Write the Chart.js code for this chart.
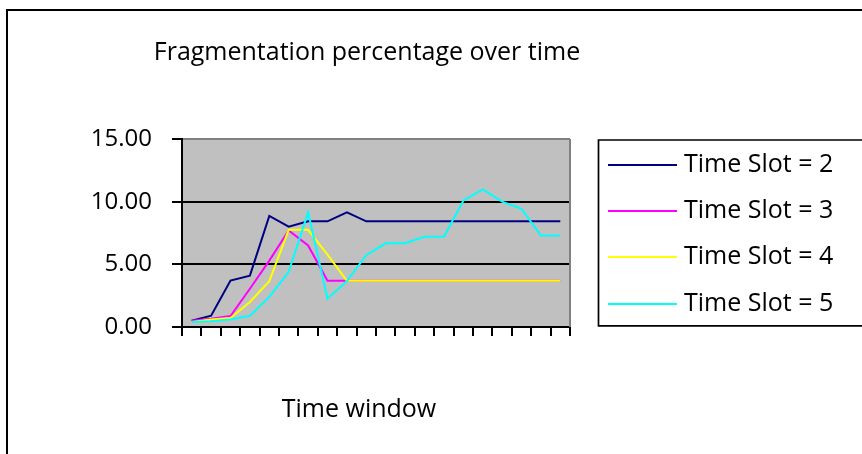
<!DOCTYPE html>
<html>
<head>
<meta charset="utf-8">
<script src="https://cdn.jsdelivr.net/npm/chart.js@4.4.1/dist/chart.umd.min.js"></script>
<style>
  html, body { margin: 0; padding: 0; background: #ffffff; }
  canvas { display: block; }
</style>
</head>
<body>
<canvas id="chart" width="862" height="454"></canvas>
<script>
// Time windows along the x axis (unlabelled in the drawing)
const timeWindows = ['1', '2', '3', '4', '5', '6', '7', '8', '9', '10',
                     '11', '12', '13', '14', '15', '16', '17', '18', '19', '20'];

const seriesNames = ['Time Slot = 2', 'Time Slot = 3', 'Time Slot = 4', 'Time Slot = 5'];
const seriesColors = ['#000080', '#FF00FF', '#FFFF00', '#00FFFF'];

// Fragmentation percentage per time window
const slot2 = [0.50, 0.90, 3.70, 4.10, 8.86, 8.00, 8.43, 8.43, 9.15, 8.43,
               8.43, 8.43, 8.43, 8.43, 8.43, 8.43, 8.43, 8.43, 8.43, 8.43];
const slot3 = [0.50, 0.65, 0.88, 3.05, 5.30, 7.70, 6.50, 3.69, 3.69, 3.69,
               3.69, 3.69, 3.69, 3.69, 3.69, 3.69, 3.69, 3.69, 3.69, 3.69];
const slot4 = [0.40, 0.60, 0.72, 2.00, 3.66, 7.75, 7.75, 5.78, 3.69, 3.69,
               3.69, 3.69, 3.69, 3.69, 3.69, 3.69, 3.69, 3.69, 3.69, 3.69];
const slot5 = [0.40, 0.45, 0.60, 0.90, 2.40, 4.40, 9.15, 2.26, 3.66, 5.73,
               6.68, 6.68, 7.20, 7.20, 10.08, 10.98, 10.00, 9.42, 7.30, 7.30];

const yTicks = [0, 5, 10, 15];

const chartTitle = 'Fragmentation percentage over time';
const xAxisTitle = 'Time window';

const FONT = '"Open Sans", "Noto Sans", sans-serif';

// Plot background, outer frame, titles and the boxed legend
const decorations = {
  id: 'decorations',
  beforeDraw(chart) {
    const { ctx, chartArea: a } = chart;
    ctx.save();
    ctx.fillStyle = '#C0C0C0';
    ctx.fillRect(a.left, a.top, a.right - a.left, a.bottom - a.top);
    ctx.restore();
  },
  afterDraw(chart) {
    const { ctx, chartArea: a } = chart;
    ctx.save();

    // right edge of the plot area
    ctx.strokeStyle = '#808080';
    ctx.lineWidth = 2;
    ctx.beginPath();
    ctx.moveTo(a.right, a.top);
    ctx.lineTo(a.right, a.bottom);
    ctx.stroke();

    // outer frame
    ctx.strokeStyle = '#000000';
    ctx.lineWidth = 2;
    ctx.beginPath();
    ctx.moveTo(7, 470);
    ctx.lineTo(7, 10);
    ctx.lineTo(880, 10);
    ctx.stroke();

    // titles
    ctx.fillStyle = '#000000';
    ctx.font = '25px ' + FONT;
    ctx.textAlign = 'center';
    ctx.textBaseline = 'alphabetic';
    ctx.fillText(chartTitle, 367, 60);
    ctx.fillText(xAxisTitle, 359, 417);

    // legend box
    ctx.lineWidth = 1.7;
    ctx.strokeStyle = '#000000';
    ctx.beginPath();
    ctx.moveTo(880, 140);
    ctx.lineTo(598.5, 140);
    ctx.lineTo(598.5, 325.8);
    ctx.lineTo(880, 325.8);
    ctx.stroke();

    const rows = [165, 211, 257, 304];
    chart.data.datasets.forEach((ds, i) => {
      const y = rows[i];
      ctx.strokeStyle = ds.borderColor;
      ctx.lineWidth = 2;
      ctx.beginPath();
      ctx.moveTo(608, y);
      ctx.lineTo(677, y);
      ctx.stroke();
      ctx.fillStyle = '#000000';
      ctx.textAlign = 'left';
      ctx.textBaseline = 'middle';
      ctx.font = '25px ' + FONT;
      ctx.fillText(ds.label, 684, y);
    });

    ctx.restore();
  }
};

const seriesValues = [slot2, slot3, slot4, slot5];

new Chart(document.getElementById('chart'), {
  type: 'line',
  data: {
    labels: timeWindows,
    datasets: seriesValues.map((vals, i) => ({
      label: seriesNames[i],
      data: vals,
      borderColor: seriesColors[i],
      backgroundColor: seriesColors[i],
      borderWidth: 2,
      pointRadius: 0,
      tension: 0,
      fill: false,
      order: seriesValues.length - i
    }))
  },
  options: {
    responsive: false,
    animation: false,
    devicePixelRatio: 1,
    layout: { padding: { top: 139, right: 292, left: 0, bottom: 0 } },
    plugins: {
      legend: { display: false },
      title: { display: false },
      tooltip: { enabled: false }
    },
    scales: {
      x: {
        type: 'category',
        offset: true,
        grid: {
          offset: true,
          drawOnChartArea: false,
          drawTicks: true,
          tickLength: 9,
          color: '#000000',
          lineWidth: 2
        },
        border: { color: '#000000', width: 2 },
        ticks: { display: false },
        afterFit(scale) { scale.height = 127; }
      },
      y: {
        min: 0,
        max: 15,
        afterBuildTicks(scale) { scale.ticks = yTicks.map(v => ({ value: v })); },
        ticks: {
          padding: 20,
          color: '#000000',
          font: { family: FONT, size: 24 },
          callback: (v) => Number(v).toFixed(2)
        },
        grid: {
          color: (c) => (c.tick && c.tick.value === 15 ? '#808080' : '#000000'),
          tickColor: '#000000',
          lineWidth: 2,
          tickLength: 10
        },
        border: { color: '#000000', width: 2 },
        afterFit(scale) { scale.width = 182; }
      }
    }
  },
  plugins: [decorations]
});
</script>
</body>
</html>
